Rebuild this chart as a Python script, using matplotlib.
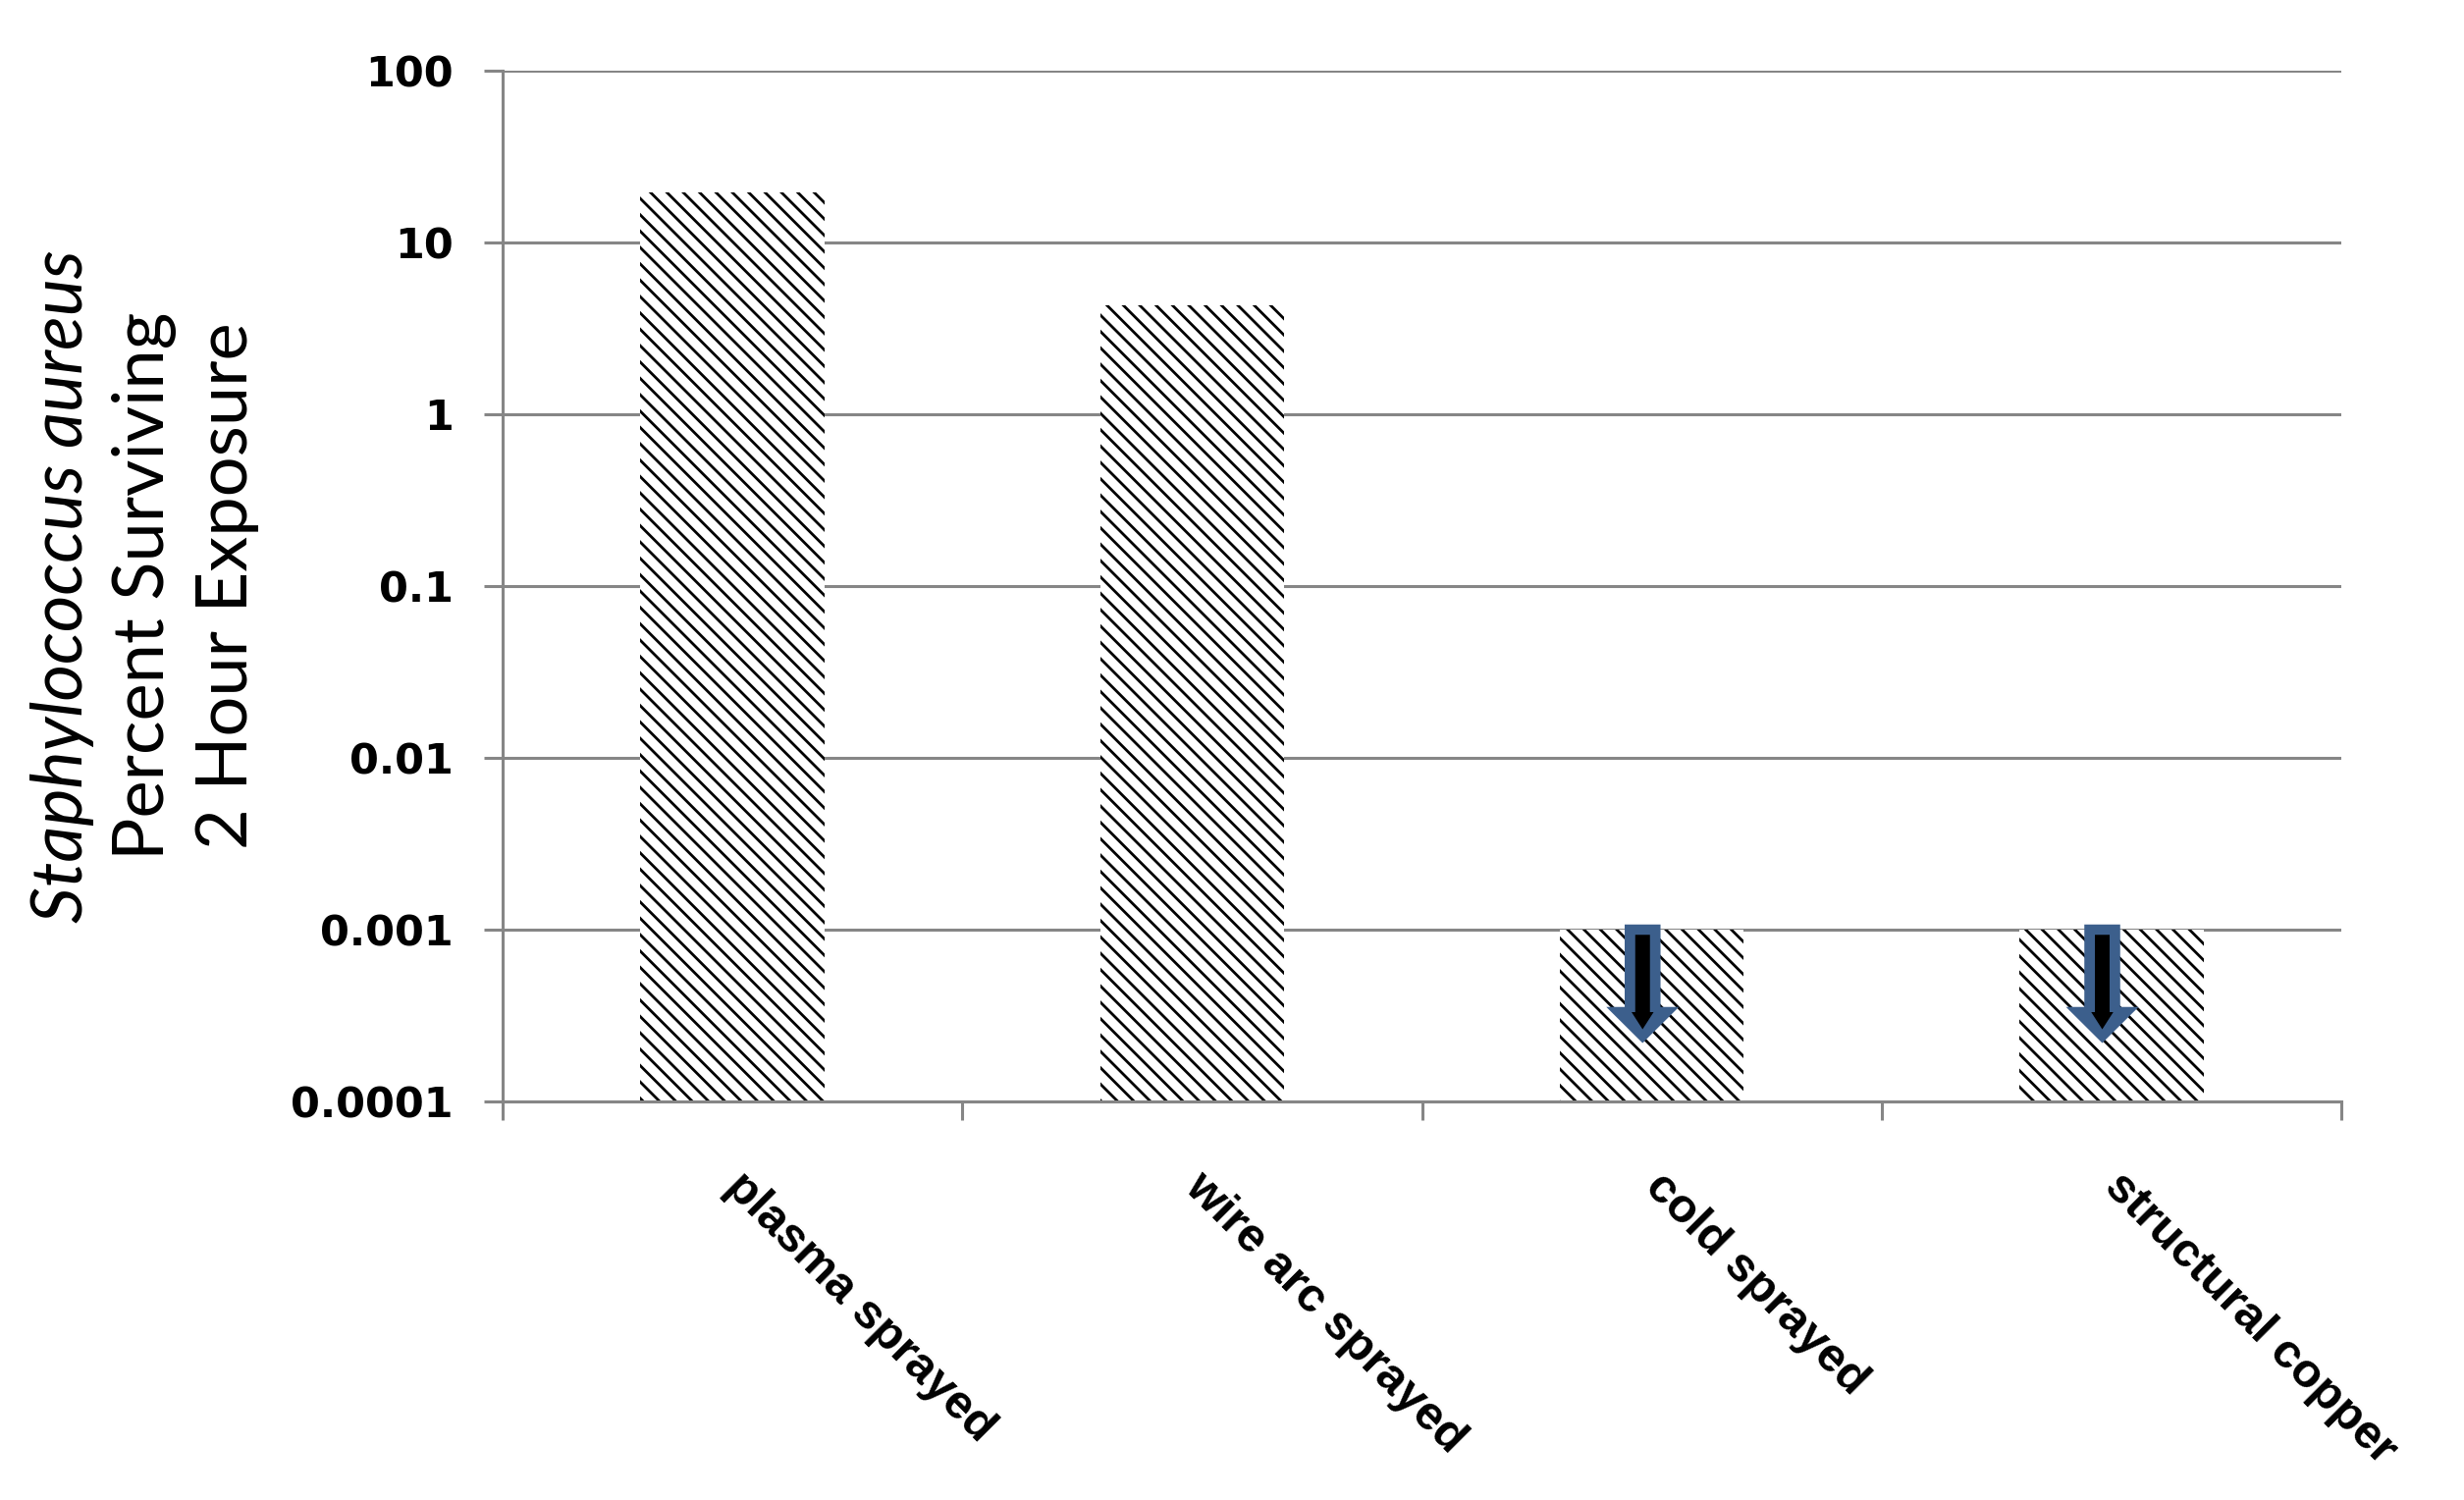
import matplotlib
matplotlib.use('Agg')
import matplotlib.pyplot as plt
import matplotlib.transforms as mtransforms
from matplotlib.patches import Polygon
from matplotlib import font_manager
import numpy as np

# ---------------- data ----------------
categories = ['plasma sprayed', 'wire arc sprayed', 'cold sprayed', 'structural copper']
percent_surviving = [19.5, 4.3, 0.001, 0.001]
below_detection = [False, False, True, True]
ytick_values = [0.0001, 0.001, 0.01, 0.1, 1, 10, 100]
ytick_labels = ['0.0001', '0.001', '0.01', '0.1', '1', '10', '100']
ylabel_lines = ['Staphylococcus aureus', 'Percent Surviving', '2 Hour Exposure']

GRID = '#868686'
ARROW_BLUE = '#3c5f8c'

plt.rcParams['hatch.linewidth'] = 2.0

names = {f.name for f in font_manager.fontManager.ttflist}
label_family = [f for f in ['Liberation Sans Narrow', 'Lato', 'DejaVu Sans'] if f in names]

fig = plt.figure(figsize=(25.1, 15.28), dpi=100)
ax = fig.add_axes([512 / 2510, 1 - 1122 / 1528, (2385 - 512) / 2510, (1122 - 72) / 1528])
ax.set_yscale('log')

x = np.arange(len(categories))
ax.bar(x, [v - ytick_values[0] for v in percent_surviving], bottom=ytick_values[0],
       width=0.4, color='white', edgecolor='black', linewidth=0, hatch='\\\\', zorder=2)

ax.set_ylim(ytick_values[0], ytick_values[-1])
ax.set_xlim(-0.5, len(categories) - 0.5)

ax.set_yticks(ytick_values)
ax.set_yticklabels(ytick_labels, fontsize=31, fontweight='bold', family='DejaVu Sans')
ax.yaxis.set_minor_locator(matplotlib.ticker.NullLocator())
ax.set_xticks(np.arange(len(categories) + 1) - 0.5)
ax.set_xticklabels([])

ax.yaxis.grid(True, color=GRID, linewidth=2.2)
ax.set_axisbelow(True)
for s in ['top', 'right']:
    ax.spines[s].set_visible(False)
for s in ['left', 'bottom']:
    ax.spines[s].set_color(GRID)
    ax.spines[s].set_linewidth(2.2)
ax.tick_params(axis='y', length=14, width=2.2, color=GRID, direction='out', pad=22)
ax.tick_params(axis='x', length=14, width=2.2, color=GRID, direction='out')

# rotated category labels
for i, lab in enumerate(categories):
    tr = ax.get_xaxis_transform() + mtransforms.ScaledTranslation(0.0, -0.80, fig.dpi_scale_trans)
    ax.text(i, 0, lab, transform=tr, rotation=-45, rotation_mode='anchor',
            ha='left', va='center', fontsize=35, fontweight='bold',
            family='Liberation Sans', clip_on=False)

# y label (three lines)
ylx = [64, 147, 232]
for xp, line, st in zip(ylx, ylabel_lines, ['italic', 'normal', 'normal']):
    fig.text(xp / 2510, 1 - 597 / 1528, line, rotation=90, ha='center', va='center',
             fontsize=52, fontstyle=st, family=label_family)


def block_arrow(xc, yv, hs, hh, top_dec, base_dec, tip_dec, color):
    top = yv * 10 ** top_dec
    base = yv * 10 ** base_dec
    tip = yv * 10 ** tip_dec
    verts = [(xc - hs, top), (xc + hs, top), (xc + hs, base), (xc + hh, base),
             (xc, tip), (xc - hh, base), (xc - hs, base)]
    ax.add_patch(Polygon(verts, closed=True, facecolor=color, edgecolor='none', zorder=4))


for i, (v, flag) in enumerate(zip(percent_surviving, below_detection)):
    if flag:
        xc = x[i] - 0.02
        block_arrow(xc, v, 0.039, 0.079, 0.03, -0.45, -0.66, ARROW_BLUE)
        block_arrow(xc, v, 0.016, 0.024, -0.03, -0.48, -0.58, 'black')

fig.savefig('out.png', dpi=100, facecolor='white')
